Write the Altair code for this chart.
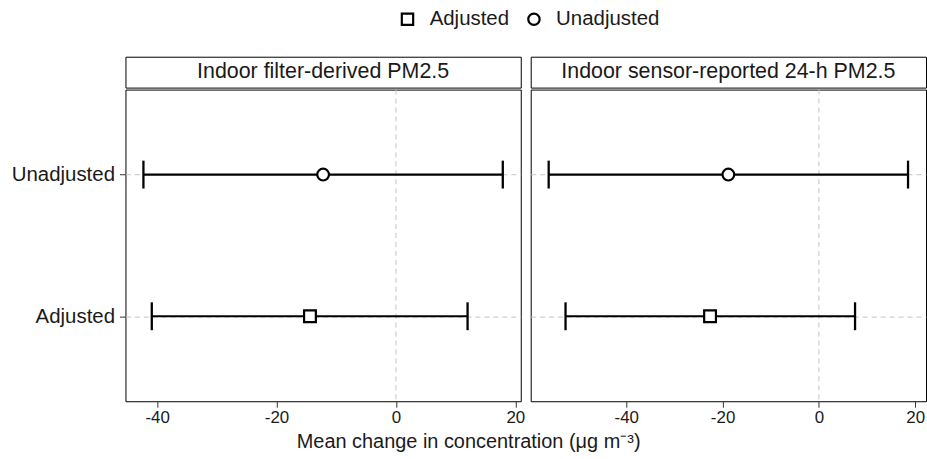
import altair as alt
import pandas as pd

panels = ["Indoor filter-derived PM2.5", "Indoor sensor-reported 24-h PM2.5"]
models = ["Unadjusted", "Adjusted"]
# per panel, in the order of `models`
est = [[-12.2, -14.4], [-18.8, -22.6]]
lo = [[-42.3, -40.9], [-56.1, -52.6]]
hi = [[17.9, 12.0], [18.5, 7.5]]
x_ticks = [-40, -20, 0, 20]
ref_line = [0]
legend_order = ["Adjusted", "Unadjusted"]
shapes = ["square", "circle"]
symbol_colors = ["black", "black"]
x_title = "Mean change in concentration (μg m⁻³)"

FONT = "Liberation Sans"
W = 397
H = 313
STRIP_H = 31
GRID = "#c4c4c4"
TXT = "#1a1a1a"

legend = alt.Legend(
    title=None, orient="none", legendX=273, legendY=-48, direction="horizontal",
    labelFont=FONT, labelFontSize=20.5, labelColor=TXT,
    symbolFillColor="white", symbolStrokeColor="black", symbolStrokeWidth=2.2,
    symbolSize=130, symbolOpacity=1, labelOffset=12, columnPadding=14,
)


def panel(i, show_y):
    df = pd.DataFrame({"model": models, "est": est[i], "lo": lo[i], "hi": hi[i]})
    mn, mx = min(lo[i]), max(hi[i])
    pad = 0.05 * (mx - mn)
    xs = alt.Scale(domain=[mn - pad, mx + pad], nice=False, zero=False)
    ys = alt.Scale(type="point", domain=models, padding=0.6)
    yaxis = alt.Axis(title=None, labels=show_y, ticks=show_y, grid=True,
                     gridDash=[5, 4], gridColor=GRID, gridWidth=1, domain=False,
                     labelFontSize=20.5, tickSize=6 if show_y else 0,
                     labelPadding=5 if show_y else 0,
                     labelFont=FONT, labelColor=TXT, tickColor="#333333")
    xaxis = alt.Axis(title=None, values=x_ticks, grid=False, domain=False,
                     labelFontSize=17, tickSize=6, labelPadding=2,
                     labelExpr="toString(datum.value)",
                     labelFont=FONT, labelColor=TXT, tickColor="#333333")
    base = alt.Chart(df)
    vline = alt.Chart(pd.DataFrame({"x": ref_line})).mark_rule(
        strokeDash=[5, 4], color=GRID, strokeWidth=1
    ).encode(x=alt.X("x:Q", scale=xs, axis=xaxis))
    bar = base.mark_rule(strokeWidth=2.2, color="black").encode(
        x=alt.X("lo:Q", scale=xs, axis=xaxis), x2="hi:Q",
        y=alt.Y("model:N", scale=ys, axis=yaxis))
    cap_lo = base.mark_tick(thickness=2.3, size=28, color="black", opacity=1).encode(
        x=alt.X("lo:Q", scale=xs), y=alt.Y("model:N", scale=ys))
    cap_hi = base.mark_tick(thickness=2.3, size=28, color="black", opacity=1).encode(
        x=alt.X("hi:Q", scale=xs), y=alt.Y("model:N", scale=ys))
    pts = base.mark_point(filled=False, fill="white", strokeWidth=2.2, size=140,
                          opacity=1).encode(
        x=alt.X("est:Q", scale=xs), y=alt.Y("model:N", scale=ys),
        shape=alt.Shape("model:N", scale=alt.Scale(domain=legend_order, range=shapes),
                        legend=legend),
        color=alt.Color("model:N",
                        scale=alt.Scale(domain=legend_order, range=symbol_colors),
                        legend=legend))
    return alt.layer(vline, bar, cap_lo, cap_hi, pts).properties(width=W, height=H)


def strip(i):
    return alt.Chart(pd.DataFrame({"t": [panels[i]]})).mark_text(
        fontSize=21.5, font=FONT, color=TXT
    ).encode(text="t:N", x=alt.value(W / 2), y=alt.value(STRIP_H / 2)).properties(
        width=W, height=STRIP_H)


col1 = alt.vconcat(strip(0), panel(0, True), spacing=0)
col2 = alt.vconcat(strip(1), panel(1, False), spacing=0)

chart = alt.hconcat(col1, col2, spacing=4).properties(
    title=alt.TitleParams(x_title, orient="bottom", anchor="middle", fontSize=20,
                          font=FONT, fontWeight="normal", color=TXT, offset=6),
    padding={"left": 10, "top": 8, "right": 0, "bottom": 0},
    background="white",
).configure_view(
    stroke="black", strokeWidth=1, fill="white"
)

chart.save("out.html", embed_options={"renderer": "svg", "actions": False})
